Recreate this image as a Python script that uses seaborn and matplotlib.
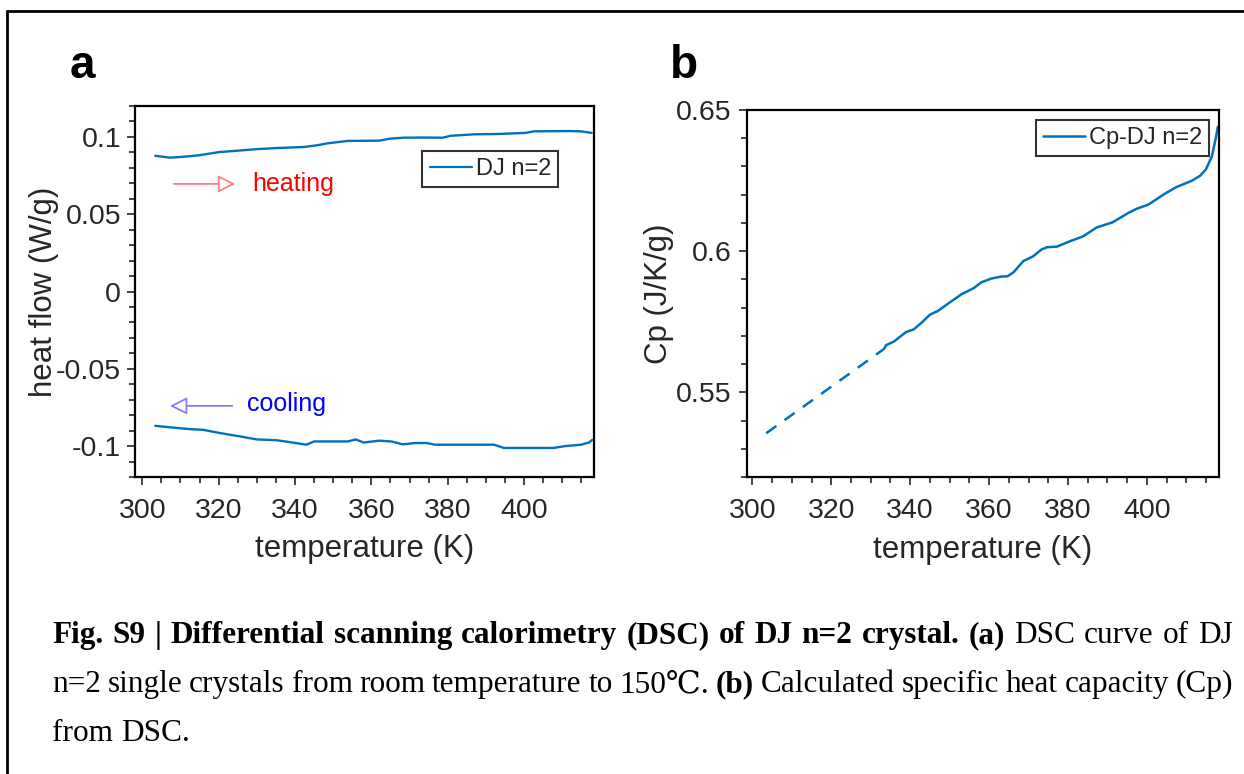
import seaborn as sns
import matplotlib.pyplot as plt
import pandas as pd
from matplotlib.lines import Line2D

# panel a: DSC heat flow, heating and cooling
t_heat = [303.4, 307.2, 310.0, 314.5, 320.2, 325.0, 330.0, 335.2, 342.4, 345.5,
          348.7, 353.8, 358.0, 362.1, 364.7, 368.3, 373.0, 378.7, 380.7, 387.0,
          393.2, 400.4, 402.5, 407.0, 411.8, 414.9, 417.7]
hf_heat = [0.0878, 0.0866, 0.0870, 0.0880, 0.0902, 0.0911, 0.0921, 0.0928, 0.0935, 0.0945,
           0.0959, 0.0974, 0.0975, 0.0976, 0.0988, 0.0995, 0.0996, 0.0995, 0.1007, 0.1017,
           0.1019, 0.1026, 0.1036, 0.1037, 0.1038, 0.1036, 0.1026]

t_cool = [303.4, 308.3, 312.4, 316.0, 320.2, 324.8, 330.0, 335.2, 339.3, 343.0,
          345.0, 350.0, 353.8, 355.9, 358.0, 362.0, 365.2, 368.3, 371.4, 374.5,
          376.6, 385.0, 392.1, 394.7, 400.0, 407.7, 410.8, 414.9, 417.0, 417.8]
hf_cool = [-0.0869, -0.0881, -0.0890, -0.0895, -0.0915, -0.0934, -0.0957, -0.0962, -0.0977, -0.0991,
           -0.0970, -0.0970, -0.0970, -0.0957, -0.0977, -0.0965, -0.0970, -0.0989, -0.0980, -0.0980,
           -0.0991, -0.0991, -0.0991, -0.1012, -0.1012, -0.1012, -0.1000, -0.0991, -0.0977, -0.0960]

# panel b: specific heat capacity
t_cp = [333.4, 333.9, 335.9, 338.9, 340.9, 343.0, 345.0, 347.0, 350.0, 353.1,
        356.1, 358.1, 360.6, 363.1, 364.7, 366.2, 368.7, 371.2, 373.2, 374.7,
        377.2, 380.3, 383.8, 387.3, 391.3, 395.4, 397.4, 400.4, 404.4, 407.5,
        411.5, 413.5, 415.0, 416.5, 417.5, 418.0]
cp = [0.5654, 0.5667, 0.5680, 0.5713, 0.5723, 0.5748, 0.5775, 0.5788, 0.5818, 0.5848,
      0.5869, 0.5890, 0.5903, 0.5910, 0.5911, 0.5925, 0.5965, 0.5982, 0.6005, 0.6014,
      0.6016, 0.6034, 0.6052, 0.6084, 0.6102, 0.6136, 0.6150, 0.6165, 0.6202, 0.6227,
      0.6250, 0.6267, 0.6290, 0.6336, 0.6401, 0.6440]
t_cp_ext = [303.5, 333.4]
cp_ext = [0.5355, 0.5654]

caption_lines = [
    [("Fig. S9 | Differential scanning calorimetry (DSC) of DJ n=2 crystal. (a)", "bold"),
     ("DSC curve of DJ", "normal")],
    [("n=2 single crystals from room temperature to 150℃.", "normal"), ("(b)", "bold"),
     ("Calculated specific heat capacity (Cp)", "normal")],
    [("from DSC.", "normal")],
]

BLUE = "#0072BD"
GREY = "#262626"
W, H = 1244, 774


def style_axes(ax):
    for s in ax.spines.values():
        s.set_visible(True)
        s.set_color("black")
        s.set_linewidth(1.6)
    ax.tick_params(which="both", direction="out", top=False, right=False,
                   left=True, bottom=True, color=GREY, width=1.2)
    ax.tick_params(which="major", length=6, labelsize=20.5, labelcolor=GREY)
    ax.tick_params(which="minor", length=4)
    ax.tick_params(axis="x", pad=9)


def main():
    sns.set_style("white")
    plt.rcParams["font.family"] = ["Liberation Sans", "DejaVu Sans"]

    fig = plt.figure(figsize=(W / 100, H / 100), dpi=100)
    ax1 = fig.add_axes([135 / W, 1 - 477 / H, 459 / W, 371 / H])
    ax2 = fig.add_axes([746.5 / W, 1 - 477 / H, 472.5 / W, 367 / H])

    heat = pd.DataFrame({"T": t_heat, "hf": hf_heat})
    cool = pd.DataFrame({"T": t_cool, "hf": hf_cool})
    sns.lineplot(data=heat, x="T", y="hf", ax=ax1, color=BLUE, lw=1.7)
    sns.lineplot(data=cool, x="T", y="hf", ax=ax1, color=BLUE, lw=1.7)
    ax1.set_xlim(298.1, 418.3)
    ax1.set_ylim(-0.12, 0.12)
    ax1.set_xticks([300, 320, 340, 360, 380, 400])
    ax1.set_xticks(range(300, 420, 5), minor=True)
    ax1.set_yticks([-0.1, -0.05, 0, 0.05, 0.1])
    ax1.set_yticklabels(["-0.1", "-0.05", "0", "0.05", "0.1"])
    ax1.set_yticks([v / 100 for v in range(-12, 13)], minor=True)
    style_axes(ax1)
    ax1.tick_params(axis="y", pad=4)
    ax1.set_xlabel("temperature (K)", fontsize=22.5, color=GREY, labelpad=7)
    ax1.set_ylabel("heat flow (W/g)", fontsize=22.5, color=GREY, labelpad=-2)
    ax1.legend(handles=[Line2D([], [], color=BLUE, lw=1.6)], labels=["DJ n=2"],
               loc="upper right", bbox_to_anchor=(0.9216, 0.878), borderaxespad=0,
               fontsize=17, frameon=True, fancybox=False, edgecolor="black",
               handlelength=1.8, handletextpad=0.15, borderpad=0.3)
    ax1.get_legend().get_frame().set_linewidth(1.5)

    head = "-|>,head_length=0.7,head_width=0.35"
    ax1.annotate("", xy=(325.1, 0.0696), xytext=(307.5, 0.0696),
                 arrowprops=dict(arrowstyle=head, mutation_scale=15,
                                 ec="#ff8080", fc="white", lw=1.3))
    ax1.text(328.7, 0.0696, "heating", color="#ff0000", fontsize=18, va="center")
    ax1.annotate("", xy=(306.5, -0.074), xytext=(324.3, -0.074),
                 arrowprops=dict(arrowstyle=head, mutation_scale=15,
                                 ec="#8080ff", fc="white", lw=1.3))
    ax1.text(327.4, -0.0725, "cooling", color="#0000ff", fontsize=18, va="center")

    ext = pd.DataFrame({"T": t_cp_ext, "cp": cp_ext})
    meas = pd.DataFrame({"T": t_cp, "cp": cp})
    sns.lineplot(data=ext, x="T", y="cp", ax=ax2, color=BLUE, lw=1.8)
    sns.lineplot(data=meas, x="T", y="cp", ax=ax2, color=BLUE, lw=1.8)
    ax2.lines[0].set_dashes([5, 4])
    ax2.set_xlim(298.5, 418.3)
    ax2.set_ylim(0.52, 0.65)
    ax2.set_xticks([300, 320, 340, 360, 380, 400])
    ax2.set_xticks(range(300, 420, 5), minor=True)
    ax2.set_yticks([0.55, 0.6, 0.65])
    ax2.set_yticklabels(["0.55", "0.6", "0.65"])
    ax2.set_yticks([v / 100 for v in range(52, 66)], minor=True)
    style_axes(ax2)
    ax2.tick_params(axis="y", pad=5)
    ax2.set_xlabel("temperature (K)", fontsize=22.5, color=GREY, labelpad=8)
    ax2.set_ylabel("Cp (J/K/g)", fontsize=22.5, color=GREY, labelpad=1)
    ax2.legend(handles=[Line2D([], [], color=BLUE, lw=1.8)], labels=["Cp-DJ n=2"],
               loc="upper right", bbox_to_anchor=(0.979, 0.973), borderaxespad=0,
               fontsize=17, frameon=True, fancybox=False, edgecolor="black",
               handlelength=1.8, handletextpad=0.15, borderpad=0.3)
    ax2.get_legend().get_frame().set_linewidth(1.5)

    fig.text(70 / W, 1 - 78 / H, "a", fontsize=33, fontweight="bold", va="baseline",
             color="black")
    fig.text(670 / W, 1 - 78 / H, "b", fontsize=33, fontweight="bold", va="baseline",
             color="black")

    # frame of the page crop
    fig.add_artist(Line2D([7 / W, 1], [1 - 10.5 / H, 1 - 10.5 / H], color="black", lw=2))
    fig.add_artist(Line2D([7 / W, 7 / W], [0, 1 - 10.5 / H], color="black", lw=2))

    # caption, justified word by word
    serif = ["Liberation Serif", "DejaVu Serif", "DejaVu Sans"]
    size = 22.5
    baselines = [643, 692, 741]
    x0, x1 = 52, 1233
    renderer = fig.canvas.get_renderer()
    for i, (segs, yb) in enumerate(zip(caption_lines, baselines)):
        words = []
        for s, wt in segs:
            for w in s.split(" "):
                words.append((w, wt))
        arts = [fig.text(0, 1 - yb / H, w, fontsize=size, fontweight=wt, family=serif,
                         va="baseline", color="black") for w, wt in words]
        widths = [a.get_window_extent(renderer).width for a in arts]
        if i < len(caption_lines) - 1:
            gap = (x1 - x0 - sum(widths)) / (len(words) - 1)
        else:
            gap = size * 100 / 72 * 0.25
        x = x0
        for a, wd in zip(arts, widths):
            a.set_x(x / W)
            x += wd + gap

    plt.savefig("out.png", dpi=100)


if __name__ == "__main__":
    main()
